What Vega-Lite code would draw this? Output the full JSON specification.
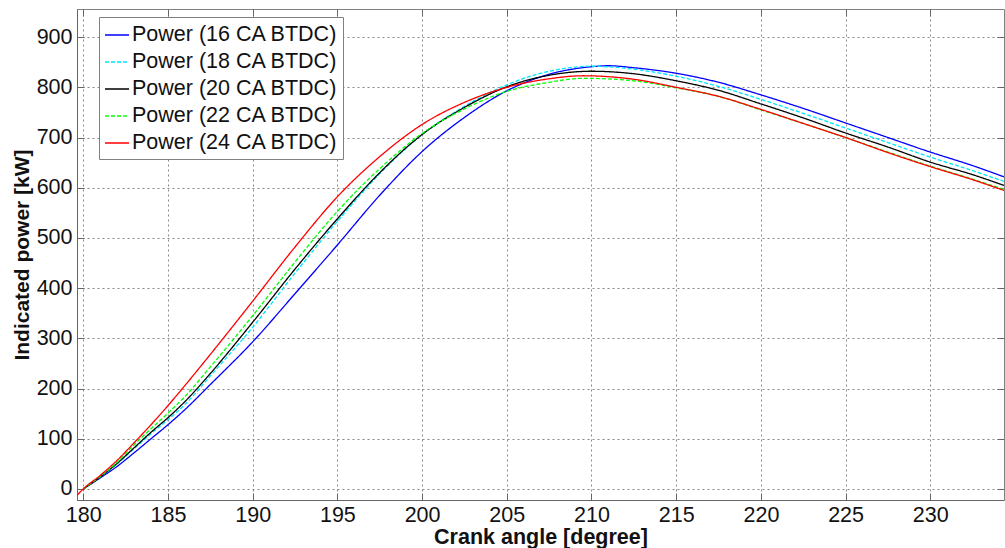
{
  "$schema": "https://vega.github.io/schema/vega-lite/v6.json",
  "width": 927,
  "height": 491,
  "autosize": {"type": "none"},
  "padding": {"left": 77, "top": 9, "right": 1, "bottom": 48},
  "background": "white",
  "config": {
    "font": "Liberation Sans",
    "view": {"stroke": "#808080", "strokeWidth": 1},
    "legend": {
      "orient": "none",
      "legendX": 22,
      "legendY": 8,
      "fillColor": "white",
      "strokeColor": "#808080",
      "padding": 5,
      "symbolType": "stroke",
      "symbolSize": 576,
      "symbolStrokeWidth": 1.3,
      "labelFontSize": 21.5,
      "labelFont": "Liberation Sans",
      "labelColor": "#111111",
      "labelOffset": 2,
      "labelLimit": 0,
      "rowPadding": 3,
      "title": null
    }
  },
  "datasets": {
    "curves": [
      {"series": "Power (16 CA BTDC)", "angle": 180, "power": 0},
      {"series": "Power (16 CA BTDC)", "angle": 181, "power": 22},
      {"series": "Power (16 CA BTDC)", "angle": 182, "power": 45},
      {"series": "Power (16 CA BTDC)", "angle": 183, "power": 72},
      {"series": "Power (16 CA BTDC)", "angle": 184, "power": 100},
      {"series": "Power (16 CA BTDC)", "angle": 185, "power": 128},
      {"series": "Power (16 CA BTDC)", "angle": 186, "power": 158},
      {"series": "Power (16 CA BTDC)", "angle": 187.5, "power": 208},
      {"series": "Power (16 CA BTDC)", "angle": 190, "power": 293},
      {"series": "Power (16 CA BTDC)", "angle": 192.5, "power": 389},
      {"series": "Power (16 CA BTDC)", "angle": 195, "power": 486},
      {"series": "Power (16 CA BTDC)", "angle": 197.5, "power": 585},
      {"series": "Power (16 CA BTDC)", "angle": 200, "power": 672},
      {"series": "Power (16 CA BTDC)", "angle": 202.5, "power": 740},
      {"series": "Power (16 CA BTDC)", "angle": 205, "power": 793},
      {"series": "Power (16 CA BTDC)", "angle": 207.5, "power": 826},
      {"series": "Power (16 CA BTDC)", "angle": 210, "power": 841},
      {"series": "Power (16 CA BTDC)", "angle": 211, "power": 843},
      {"series": "Power (16 CA BTDC)", "angle": 212.5, "power": 839},
      {"series": "Power (16 CA BTDC)", "angle": 215, "power": 828},
      {"series": "Power (16 CA BTDC)", "angle": 217.5, "power": 810},
      {"series": "Power (16 CA BTDC)", "angle": 220, "power": 785},
      {"series": "Power (16 CA BTDC)", "angle": 222.5, "power": 758},
      {"series": "Power (16 CA BTDC)", "angle": 225, "power": 729},
      {"series": "Power (16 CA BTDC)", "angle": 227.5, "power": 700},
      {"series": "Power (16 CA BTDC)", "angle": 230, "power": 671},
      {"series": "Power (16 CA BTDC)", "angle": 232.5, "power": 644},
      {"series": "Power (16 CA BTDC)", "angle": 234.4, "power": 621},

      {"series": "Power (18 CA BTDC)", "angle": 180, "power": 0},
      {"series": "Power (18 CA BTDC)", "angle": 181, "power": 24},
      {"series": "Power (18 CA BTDC)", "angle": 182, "power": 50},
      {"series": "Power (18 CA BTDC)", "angle": 183, "power": 80},
      {"series": "Power (18 CA BTDC)", "angle": 184, "power": 110},
      {"series": "Power (18 CA BTDC)", "angle": 185, "power": 138},
      {"series": "Power (18 CA BTDC)", "angle": 186, "power": 168},
      {"series": "Power (18 CA BTDC)", "angle": 187.5, "power": 225},
      {"series": "Power (18 CA BTDC)", "angle": 190, "power": 322},
      {"series": "Power (18 CA BTDC)", "angle": 192.5, "power": 430},
      {"series": "Power (18 CA BTDC)", "angle": 195, "power": 533},
      {"series": "Power (18 CA BTDC)", "angle": 197.5, "power": 628},
      {"series": "Power (18 CA BTDC)", "angle": 200, "power": 706},
      {"series": "Power (18 CA BTDC)", "angle": 202.5, "power": 762},
      {"series": "Power (18 CA BTDC)", "angle": 205, "power": 805},
      {"series": "Power (18 CA BTDC)", "angle": 207.5, "power": 832},
      {"series": "Power (18 CA BTDC)", "angle": 210, "power": 842},
      {"series": "Power (18 CA BTDC)", "angle": 212.5, "power": 836},
      {"series": "Power (18 CA BTDC)", "angle": 215, "power": 822},
      {"series": "Power (18 CA BTDC)", "angle": 217.5, "power": 802},
      {"series": "Power (18 CA BTDC)", "angle": 220, "power": 776},
      {"series": "Power (18 CA BTDC)", "angle": 222.5, "power": 748},
      {"series": "Power (18 CA BTDC)", "angle": 225, "power": 719},
      {"series": "Power (18 CA BTDC)", "angle": 227.5, "power": 690},
      {"series": "Power (18 CA BTDC)", "angle": 230, "power": 661},
      {"series": "Power (18 CA BTDC)", "angle": 232.5, "power": 634},
      {"series": "Power (18 CA BTDC)", "angle": 234.4, "power": 612},

      {"series": "Power (20 CA BTDC)", "angle": 180, "power": 0},
      {"series": "Power (20 CA BTDC)", "angle": 181, "power": 24},
      {"series": "Power (20 CA BTDC)", "angle": 182, "power": 51},
      {"series": "Power (20 CA BTDC)", "angle": 183, "power": 82},
      {"series": "Power (20 CA BTDC)", "angle": 184, "power": 113},
      {"series": "Power (20 CA BTDC)", "angle": 185, "power": 142},
      {"series": "Power (20 CA BTDC)", "angle": 186, "power": 174},
      {"series": "Power (20 CA BTDC)", "angle": 187.5, "power": 230},
      {"series": "Power (20 CA BTDC)", "angle": 190, "power": 332},
      {"series": "Power (20 CA BTDC)", "angle": 192.5, "power": 438},
      {"series": "Power (20 CA BTDC)", "angle": 195, "power": 538},
      {"series": "Power (20 CA BTDC)", "angle": 197.5, "power": 630},
      {"series": "Power (20 CA BTDC)", "angle": 200, "power": 706},
      {"series": "Power (20 CA BTDC)", "angle": 202.5, "power": 760},
      {"series": "Power (20 CA BTDC)", "angle": 205, "power": 801},
      {"series": "Power (20 CA BTDC)", "angle": 207.5, "power": 824},
      {"series": "Power (20 CA BTDC)", "angle": 210, "power": 832},
      {"series": "Power (20 CA BTDC)", "angle": 212.5, "power": 827},
      {"series": "Power (20 CA BTDC)", "angle": 215, "power": 813},
      {"series": "Power (20 CA BTDC)", "angle": 217.5, "power": 794},
      {"series": "Power (20 CA BTDC)", "angle": 220, "power": 767},
      {"series": "Power (20 CA BTDC)", "angle": 222.5, "power": 739},
      {"series": "Power (20 CA BTDC)", "angle": 225, "power": 709},
      {"series": "Power (20 CA BTDC)", "angle": 227.5, "power": 681},
      {"series": "Power (20 CA BTDC)", "angle": 230, "power": 651},
      {"series": "Power (20 CA BTDC)", "angle": 232.5, "power": 626},
      {"series": "Power (20 CA BTDC)", "angle": 234.4, "power": 604},

      {"series": "Power (22 CA BTDC)", "angle": 180, "power": 0},
      {"series": "Power (22 CA BTDC)", "angle": 181, "power": 25},
      {"series": "Power (22 CA BTDC)", "angle": 182, "power": 53},
      {"series": "Power (22 CA BTDC)", "angle": 183, "power": 88},
      {"series": "Power (22 CA BTDC)", "angle": 184, "power": 120},
      {"series": "Power (22 CA BTDC)", "angle": 185, "power": 151},
      {"series": "Power (22 CA BTDC)", "angle": 186, "power": 184},
      {"series": "Power (22 CA BTDC)", "angle": 187.5, "power": 243},
      {"series": "Power (22 CA BTDC)", "angle": 190, "power": 345},
      {"series": "Power (22 CA BTDC)", "angle": 192.5, "power": 452},
      {"series": "Power (22 CA BTDC)", "angle": 195, "power": 553},
      {"series": "Power (22 CA BTDC)", "angle": 197.5, "power": 638},
      {"series": "Power (22 CA BTDC)", "angle": 200, "power": 708},
      {"series": "Power (22 CA BTDC)", "angle": 202.5, "power": 757},
      {"series": "Power (22 CA BTDC)", "angle": 205, "power": 792},
      {"series": "Power (22 CA BTDC)", "angle": 207.5, "power": 810},
      {"series": "Power (22 CA BTDC)", "angle": 209.5, "power": 818},
      {"series": "Power (22 CA BTDC)", "angle": 212.5, "power": 813},
      {"series": "Power (22 CA BTDC)", "angle": 215, "power": 799},
      {"series": "Power (22 CA BTDC)", "angle": 217.5, "power": 782},
      {"series": "Power (22 CA BTDC)", "angle": 220, "power": 755},
      {"series": "Power (22 CA BTDC)", "angle": 222.5, "power": 728},
      {"series": "Power (22 CA BTDC)", "angle": 225, "power": 700},
      {"series": "Power (22 CA BTDC)", "angle": 227.5, "power": 671},
      {"series": "Power (22 CA BTDC)", "angle": 230, "power": 643},
      {"series": "Power (22 CA BTDC)", "angle": 232.5, "power": 617},
      {"series": "Power (22 CA BTDC)", "angle": 234.4, "power": 596},

      {"series": "Power (24 CA BTDC)", "angle": 179.65, "power": -12},
      {"series": "Power (24 CA BTDC)", "angle": 180, "power": 0},
      {"series": "Power (24 CA BTDC)", "angle": 181, "power": 27},
      {"series": "Power (24 CA BTDC)", "angle": 182, "power": 57},
      {"series": "Power (24 CA BTDC)", "angle": 183, "power": 92},
      {"series": "Power (24 CA BTDC)", "angle": 184, "power": 128},
      {"series": "Power (24 CA BTDC)", "angle": 185, "power": 166},
      {"series": "Power (24 CA BTDC)", "angle": 186, "power": 206},
      {"series": "Power (24 CA BTDC)", "angle": 187.5, "power": 268},
      {"series": "Power (24 CA BTDC)", "angle": 190, "power": 374},
      {"series": "Power (24 CA BTDC)", "angle": 192.5, "power": 482},
      {"series": "Power (24 CA BTDC)", "angle": 195, "power": 582},
      {"series": "Power (24 CA BTDC)", "angle": 197.5, "power": 662},
      {"series": "Power (24 CA BTDC)", "angle": 200, "power": 726},
      {"series": "Power (24 CA BTDC)", "angle": 202.5, "power": 770},
      {"series": "Power (24 CA BTDC)", "angle": 205, "power": 800},
      {"series": "Power (24 CA BTDC)", "angle": 207.5, "power": 817},
      {"series": "Power (24 CA BTDC)", "angle": 209.5, "power": 823},
      {"series": "Power (24 CA BTDC)", "angle": 212.5, "power": 816},
      {"series": "Power (24 CA BTDC)", "angle": 215, "power": 800},
      {"series": "Power (24 CA BTDC)", "angle": 217.5, "power": 782},
      {"series": "Power (24 CA BTDC)", "angle": 220, "power": 756},
      {"series": "Power (24 CA BTDC)", "angle": 222.5, "power": 728},
      {"series": "Power (24 CA BTDC)", "angle": 225, "power": 700},
      {"series": "Power (24 CA BTDC)", "angle": 227.5, "power": 670},
      {"series": "Power (24 CA BTDC)", "angle": 230, "power": 642},
      {"series": "Power (24 CA BTDC)", "angle": 232.5, "power": 616},
      {"series": "Power (24 CA BTDC)", "angle": 234.4, "power": 594}
    ]
  },
  "data": {"name": "curves"},
  "layer": [
    {
      "mark": {"type": "line", "interpolate": "monotone", "strokeWidth": 1.3, "clip": true},
      "encoding": {
        "x": {
          "field": "angle", "type": "quantitative",
          "scale": {"domain": [179.63, 234.35], "nice": false, "zero": false},
          "axis": {
            "title": "Crank angle [degree]",
            "titleFont": "Liberation Sans", "titleFontSize": 21.5, "titleFontWeight": "bold", "titleColor": "#111111",
            "titlePadding": 1,
            "values": [180, 185, 190, 195, 200, 205, 210, 215, 220, 225, 230],
            "format": "d",
            "labelFont": "Liberation Sans", "labelFontSize": 21.5, "labelColor": "#111111",
            "labelPadding": 11,
            "tickSize": -7, "tickColor": "#666666", "tickWidth": 1,
            "domainColor": "#666666", "domainWidth": 1,
            "grid": true, "gridColor": "#888888", "gridDash": [2, 3], "gridWidth": 1
          }
        },
        "y": {
          "field": "power", "type": "quantitative",
          "scale": {"domain": [-22, 956], "nice": false, "zero": false},
          "axis": {
            "title": "Indicated power [kW]",
            "titleFont": "Liberation Sans", "titleFontSize": 21, "titleFontWeight": "bold", "titleColor": "#111111",
            "titlePadding": 4,
            "values": [0, 100, 200, 300, 400, 500, 600, 700, 800, 900],
            "format": "d",
            "labelFont": "Liberation Sans", "labelFontSize": 21.5, "labelColor": "#111111",
            "labelPadding": 12,
            "tickSize": -7, "tickColor": "#666666", "tickWidth": 1,
            "domainColor": "#666666", "domainWidth": 1,
            "grid": true, "gridColor": "#888888", "gridDash": [2, 3], "gridWidth": 1
          }
        },
        "color": {
          "field": "series", "type": "nominal",
          "scale": {
            "domain": ["Power (16 CA BTDC)", "Power (18 CA BTDC)", "Power (20 CA BTDC)", "Power (22 CA BTDC)", "Power (24 CA BTDC)"],
            "range": ["#0000ff", "#00e5ff", "#000000", "#00ff00", "#ff0000"]
          }
        },
        "strokeDash": {
          "field": "series", "type": "nominal",
          "scale": {
            "domain": ["Power (16 CA BTDC)", "Power (18 CA BTDC)", "Power (20 CA BTDC)", "Power (22 CA BTDC)", "Power (24 CA BTDC)"],
            "range": [[1, 0], [4, 2], [1, 0], [4, 2], [1, 0]]
          }
        }
      }
    },
    {
      "mark": {"type": "point", "opacity": 0},
      "encoding": {
        "x": {
          "field": "angle", "type": "quantitative",
          "axis": {
            "title": null, "labels": false, "grid": false,
            "values": [180, 185, 190, 195, 200, 205, 210, 215, 220, 225, 230],
            "tickSize": -7, "tickColor": "#666666", "domain": false
          }
        },
        "y": {
          "field": "power", "type": "quantitative",
          "axis": {
            "title": null, "labels": false, "grid": false,
            "values": [0, 100, 200, 300, 400, 500, 600, 700, 800, 900],
            "tickSize": -7, "tickColor": "#666666", "domain": false
          }
        }
      }
    }
  ],
  "resolve": {"axis": {"x": "independent", "y": "independent"}}
}
